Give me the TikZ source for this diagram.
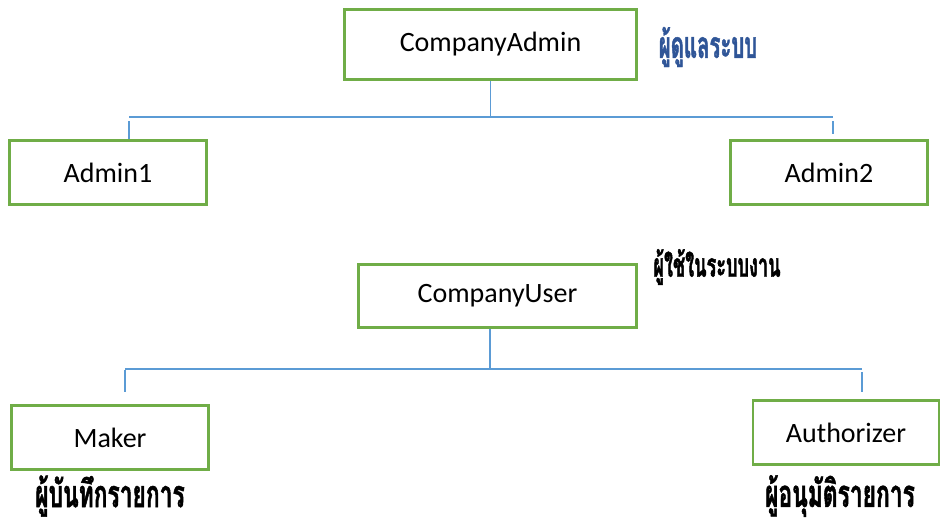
\documentclass[tikz,border=0pt]{standalone}
\usepackage{fontspec}
\setmainfont{Carlito}
\newfontfamily\thaifont[Script=Thai,FakeStretch=0.55,FakeBold=1.2]{Loma}
\newfontfamily\thaiancha[Script=Thai,FakeStretch=0.6,FakeBold=1.2]{Loma}
\definecolor{borde}{HTML}{70AD47}
\definecolor{enlace}{HTML}{5B9BD5}
\definecolor{tinta}{HTML}{2F5597}

\begin{document}
\begin{tikzpicture}[x=1pt,y=-1pt,
   caja/.style={draw=borde,line width=2.6pt,minimum height=64pt,inner sep=0pt,font=\fontsize{28}{34}\selectfont},
   rotulo/.style={inner sep=0pt,font=\thaifont\bfseries\fontsize{#1}{#1}\selectfont},
   pie/.style={inner sep=0pt,font=\thaiancha\bfseries\fontsize{38}{38}\selectfont},
   linea/.style={enlace,line width=1.2pt}]
  \useasboundingbox (0,0) rectangle (942,525);
  % --- administradores ---
  \node[caja,minimum width=292pt,minimum height=70pt] (cadmin) at (490.5,44.5) {CompanyAdmin};
  \node[caja,minimum width=197pt] (admin1) at (108,172.5) {Admin1};
  \node[caja,minimum width=197pt] (admin2) at (829,172.5) {Admin2};
  \node[rotulo=37,text=tinta] (radmin) at (708,47) {ผู้ดูแลระบบ};
  \coordinate (b1l) at (129,117);
  \coordinate (b1r) at (833,117);
  \coordinate (f1r) at (833,134);
  \draw[linea] (cadmin.south) -- (cadmin.south |- b1l);
  \draw[linea] (b1l) -- (b1r);
  \draw[linea] ([yshift=-4pt]b1l) -- (admin1.north -| b1l);
  \draw[linea] ([yshift=-4pt]b1r) -- (f1r);
  % --- usuarios ---
  \node[caja,minimum width=278pt,minimum height=63pt] (cuser) at (497.5,296) {CompanyUser};
  \node[caja,minimum width=197pt] (maker) at (110,437.5) {Maker};
  \node[caja,minimum width=186pt] (autor) at (846,432.5) {Authorizer};
  \node[rotulo=33] (ruser) at (717,267) {ผู้ใช้ในระบบงาน};
  \node[pie] (rmaker) at (110,496) {ผู้บันทึกรายการ};
  \node[pie] (rautor) at (840,496) {ผู้อนุมัติรายการ};
  \coordinate (u0) at (490,369);
  \coordinate (b2l) at (125,369);
  \coordinate (b2r) at (862,369);
  \coordinate (f2l) at (125,392);
  \coordinate (f2r) at (862,392);
  \draw[linea] (u0 |- cuser.south) -- (u0);
  \draw[linea] (b2l) -- (b2r);
  \draw[linea] ([yshift=-1pt]b2l) -- (f2l);
  \draw[linea] ([yshift=-3pt]b2r) -- (f2r);
\end{tikzpicture}
\end{document}
